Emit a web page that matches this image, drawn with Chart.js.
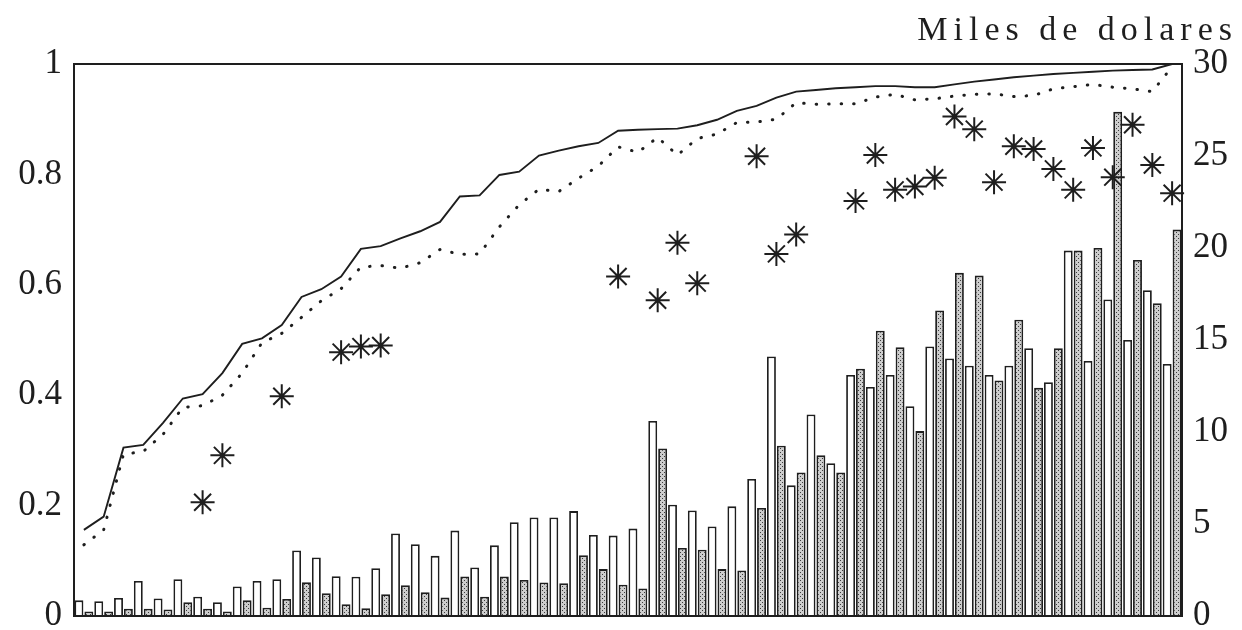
<!DOCTYPE html>
<html>
<head>
<meta charset="utf-8">
<script src="https://cdn.jsdelivr.net/npm/chart.js@4"></script>
<style>
  html, body { margin: 0; padding: 0; background: #fff; }
  #wrap { width: 1242px; height: 630px; }
</style>
</head>
<body>
<div id="wrap"><canvas id="chart" width="1242" height="630"></canvas></div>
<script>
// 56 paired observations, ordered left to right
const categories = [
  '1','2','3','4','5','6','7','8','9','10','11','12','13','14',
  '15','16','17','18','19','20','21','22','23','24','25','26','27','28',
  '29','30','31','32','33','34','35','36','37','38','39','40','41','42',
  '43','44','45','46','47','48','49','50','51','52','53','54','55','56'
];

// bars, thousands of dollars (right axis)
const whiteBars = [
  0.85, 0.8, 0.98, 1.9, 0.95, 2.0, 1.05, 0.75, 1.6, 1.9,
  2.0, 3.56, 3.18, 2.16, 2.13, 2.6, 4.49, 3.9, 3.27, 4.64,
  2.64, 3.84, 5.1, 5.36, 5.36, 5.7, 4.4, 4.37, 4.75, 10.6,
  6.05, 5.73, 4.87, 5.96, 7.45, 14.1, 7.1, 10.95, 8.3, 13.1,
  12.45, 13.1, 11.4, 14.65, 14.0, 13.6, 13.1, 13.6, 14.55, 12.7,
  19.86, 13.86, 17.2, 15.0, 17.7, 13.7
];
const dottedBars = [
  0.25, 0.25, 0.4, 0.4, 0.35, 0.75, 0.4, 0.25, 0.85, 0.45,
  0.93, 1.84, 1.24, 0.64, 0.42, 1.18, 1.67, 1.29, 1.0, 2.15,
  1.05, 2.15, 1.96, 1.82, 1.78, 3.3, 2.55, 1.7, 1.5, 9.1,
  3.7, 3.6, 2.55, 2.47, 5.87, 9.25, 7.8, 8.73, 7.8, 13.44,
  15.5, 14.6, 10.05, 16.6, 18.65, 18.5, 12.8, 16.1, 12.4, 14.55,
  19.86, 20.0, 27.4, 19.35, 17.0, 21.0
];

// cumulative shares (left axis)
const solidLine = [
  0.156, 0.18, 0.305, 0.31, 0.35, 0.394, 0.402, 0.44, 0.493, 0.503,
  0.527, 0.578, 0.592, 0.615, 0.665, 0.67, 0.684, 0.697, 0.714, 0.76,
  0.762, 0.799, 0.805, 0.834, 0.843, 0.851, 0.857, 0.879, 0.881, 0.882,
  0.883, 0.889, 0.899, 0.915, 0.924, 0.939, 0.95, 0.953, 0.956, 0.958,
  0.96, 0.96, 0.958, 0.958, 0.963, 0.968, 0.972, 0.976, 0.979, 0.982,
  0.984, 0.986, 0.988, 0.989, 0.99, 1.0
];
const dottedLine = [
  0.129, 0.156, 0.293, 0.298, 0.329, 0.378, 0.381, 0.4, 0.44, 0.495,
  0.512, 0.541, 0.571, 0.593, 0.632, 0.635, 0.63, 0.64, 0.664, 0.655,
  0.656, 0.705, 0.745, 0.773, 0.769, 0.793, 0.815, 0.85, 0.84, 0.867,
  0.835, 0.865, 0.873, 0.894, 0.895, 0.9, 0.93, 0.927, 0.928, 0.928,
  0.94, 0.945, 0.935, 0.937, 0.942, 0.945, 0.946, 0.941, 0.943, 0.955,
  0.959, 0.963, 0.958, 0.955, 0.95, 0.995
];

// asterisks (left axis), null where there is none
const stars = [
  null, null, null, null, null, null, 0.206, 0.291, null, null,
  0.398, null, null, 0.478, 0.488, 0.49, null, null, null, null,
  null, null, null, null, null, null, null, 0.615, null, 0.572,
  0.676, 0.603, null, null, 0.833, 0.656, 0.691, null, null, 0.752,
  0.835, 0.772, 0.778, 0.794, 0.905, 0.882, 0.786, 0.851, 0.846, 0.81,
  0.772, 0.848, 0.795, 0.89, 0.817, 0.766
];

const leftTicks = ['0', '0.2', '0.4', '0.6', '0.8', '1'];
const rightTicks = ['0', '5', '10', '15', '20', '25', '30'];
const unitLabel = 'Miles de dolares';

const serif = '"Liberation Serif", "DejaVu Serif", serif';
const ink = '#1e1e1e';

const canvas = document.getElementById('chart');
const ctx = canvas.getContext('2d');

// stippled grey fill for the second bar of each pair
function dotPattern() {
  const c = document.createElement('canvas');
  c.width = 4; c.height = 4;
  const g = c.getContext('2d');
  g.fillStyle = '#cdcdcd';
  g.fillRect(0, 0, 4, 4);
  g.fillStyle = '#3c3c3c';
  g.fillRect(0, 0, 1, 1);
  g.fillRect(2, 2, 1, 1);
  return ctx.createPattern(c, 'repeat');
}

const framePlugin = {
  id: 'frame',
  afterDatasetsDraw(chart) {
    const a = chart.chartArea;
    const c = chart.ctx;
    c.save();
    c.strokeStyle = ink;
    c.lineWidth = 2;
    c.strokeRect(a.left, a.top, a.right - a.left, a.bottom - a.top);
    c.restore();
  },
  afterDraw(chart) {
    const c = chart.ctx;
    c.save();
    c.font = '34px ' + serif;
    c.letterSpacing = '6px';
    c.fillStyle = ink;
    c.textAlign = 'right';
    c.textBaseline = 'alphabetic';
    c.fillText(unitLabel, 1238, 40);
    c.restore();
  }
};

const tickFont = { family: serif, size: 35, lineHeight: 0.1 };

new Chart(ctx, {
  type: 'bar',
  data: {
    labels: categories,
    datasets: [
      {
        type: 'line',
        data: stars,
        yAxisID: 'y',
        showLine: false,
        pointStyle: 'star',
        pointRadius: 12,
        pointBorderWidth: 2,
        pointBorderColor: ink,
        pointBackgroundColor: ink,
        order: 0
      },
      {
        type: 'line',
        data: solidLine,
        yAxisID: 'y',
        borderColor: ink,
        borderWidth: 1.9,
        pointRadius: 0,
        tension: 0,
        fill: false,
        order: 1
      },
      {
        type: 'line',
        data: dottedLine,
        yAxisID: 'y',
        borderColor: ink,
        borderWidth: 3,
        borderDash: [0.5, 12],
        borderCapStyle: 'round',
        pointRadius: 0,
        tension: 0,
        fill: false,
        order: 2
      },
      {
        data: whiteBars,
        yAxisID: 'y2',
        backgroundColor: '#ffffff',
        borderColor: ink,
        borderWidth: 1.8,
        order: 3
      },
      {
        data: dottedBars,
        yAxisID: 'y2',
        backgroundColor: dotPattern(),
        borderColor: ink,
        borderWidth: 1.8,
        order: 4
      }
    ]
  },
  options: {
    responsive: false,
    animation: false,
    layout: { padding: { top: 64, bottom: 0, left: 0, right: 0 } },
    plugins: {
      legend: { display: false },
      tooltip: { enabled: false }
    },
    datasets: {
      bar: { categoryPercentage: 1.0, barPercentage: 0.9 }
    },
    scales: {
      x: { display: false },
      y: {
        position: 'left',
        min: 0, max: 1,
        grid: { display: false, drawTicks: false },
        border: { display: false },
        ticks: {
          stepSize: 0.2,
          padding: 12,
          color: ink,
          font: tickFont,
          callback: (v) => leftTicks[Math.round(v / 0.2)]
        },
        afterFit(s) { s.width = 74; }
      },
      y2: {
        position: 'right',
        min: 0, max: 30,
        grid: { display: false, drawTicks: false },
        border: { display: false },
        ticks: {
          stepSize: 5,
          padding: 11,
          color: ink,
          font: tickFont,
          callback: (v) => rightTicks[Math.round(v / 5)]
        },
        afterFit(s) { s.width = 60; }
      }
    }
  },
  plugins: [framePlugin]
});
</script>
</body>
</html>
